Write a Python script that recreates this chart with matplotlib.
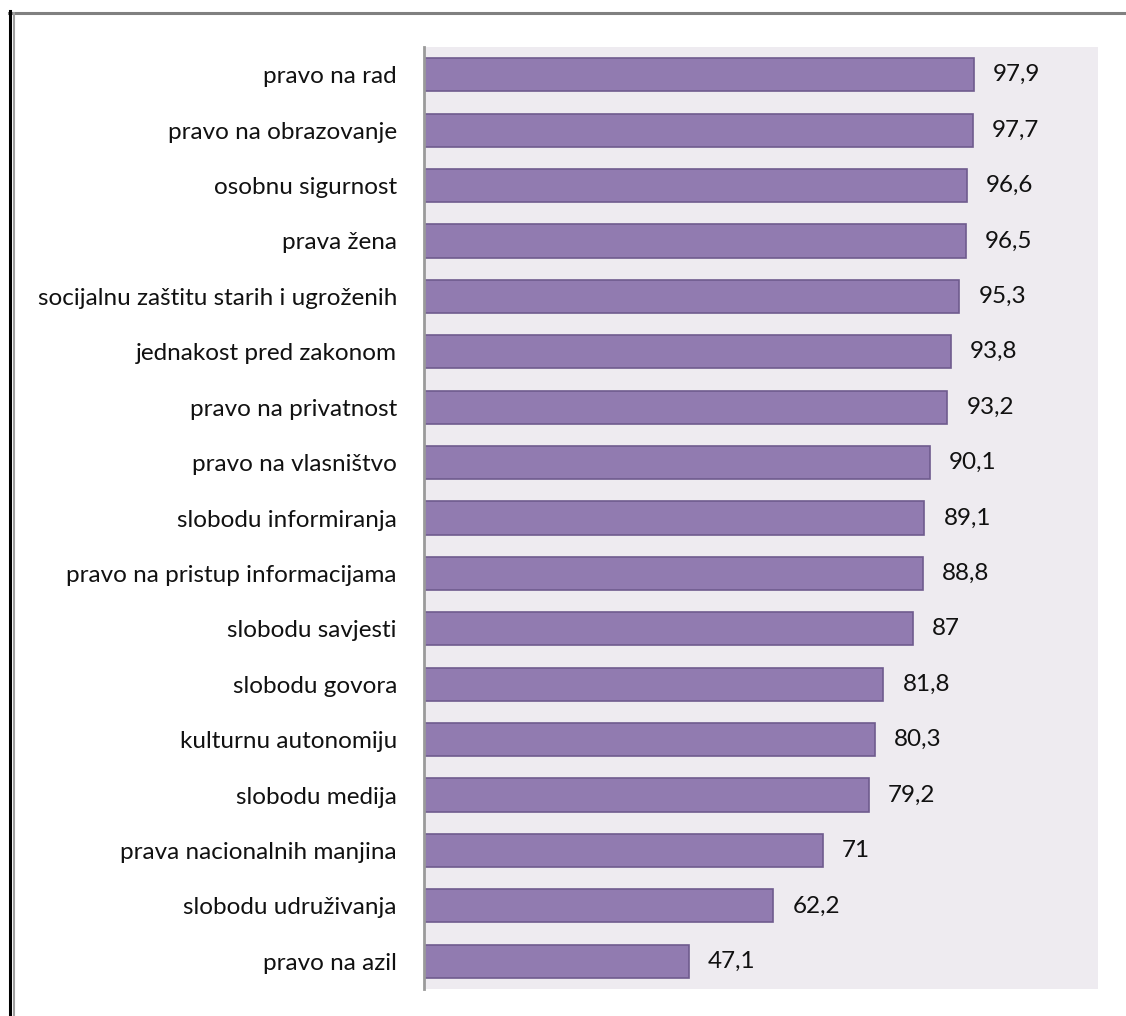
import matplotlib.pyplot as plt
from matplotlib.lines import Line2D

labels = [
    "pravo na rad",
    "pravo na obrazovanje",
    "osobnu sigurnost",
    "prava žena",
    "socijalnu zaštitu starih i ugroženih",
    "jednakost pred zakonom",
    "pravo na privatnost",
    "pravo na vlasništvo",
    "slobodu informiranja",
    "pravo na pristup informacijama",
    "slobodu savjesti",
    "slobodu govora",
    "kulturnu autonomiju",
    "slobodu medija",
    "prava nacionalnih manjina",
    "slobodu udruživanja",
    "pravo na azil",
]
values = [97.9, 97.7, 96.6, 96.5, 95.3, 93.8, 93.2, 90.1, 89.1, 88.8,
          87, 81.8, 80.3, 79.2, 71, 62.2, 47.1]
value_text = ["97,9", "97,7", "96,6", "96,5", "95,3", "93,8", "93,2", "90,1",
              "89,1", "88,8", "87", "81,8", "80,3", "79,2", "71", "62,2", "47,1"]

plt.rcParams['font.family'] = ['Lato', 'DejaVu Sans']

fig = plt.figure(figsize=(11.26, 10.16), dpi=100)
ax = fig.add_axes([0.3766, 0.0266, 0.9751 - 0.3766, 0.9537 - 0.0266])
ax.set_facecolor('#eeebf0')

y = list(range(len(labels)))
ax.barh(y, values, height=0.6, color='#917bb0', edgecolor='#6f5b8e', linewidth=1.2)
for yi, v, t in zip(y, values, value_text):
    ax.text(v + 3.4, yi, t, va='center', ha='left', fontsize=17.5, color='#111111')

ax.set_yticks(y)
ax.set_yticklabels(labels, fontsize=17.5, color='#111111')
ax.tick_params(axis='y', length=0, pad=19.5)
ax.set_xticks([])
ax.set_xlim(0, 120)
ax.set_ylim(len(labels) - 0.5, -0.5)

for s in ['top', 'right', 'bottom']:
    ax.spines[s].set_visible(False)
ax.spines['left'].set_color('#9a9a9a')
ax.spines['left'].set_linewidth(2)

# outer frame
W, H = 1126, 1016
fig.add_artist(Line2D([9 / W, 1], [1 - 12.5 / H, 1 - 12.5 / H], color='#808080', lw=2.2))
fig.add_artist(Line2D([10 / W, 10 / W], [0, 1 - 11 / H], color='black', lw=2.2))
fig.add_artist(Line2D([14 / W, 14 / W], [0, 1 - 13 / H], color='#a0a0a0', lw=1.5))

fig.savefig('out.png', dpi=100)
